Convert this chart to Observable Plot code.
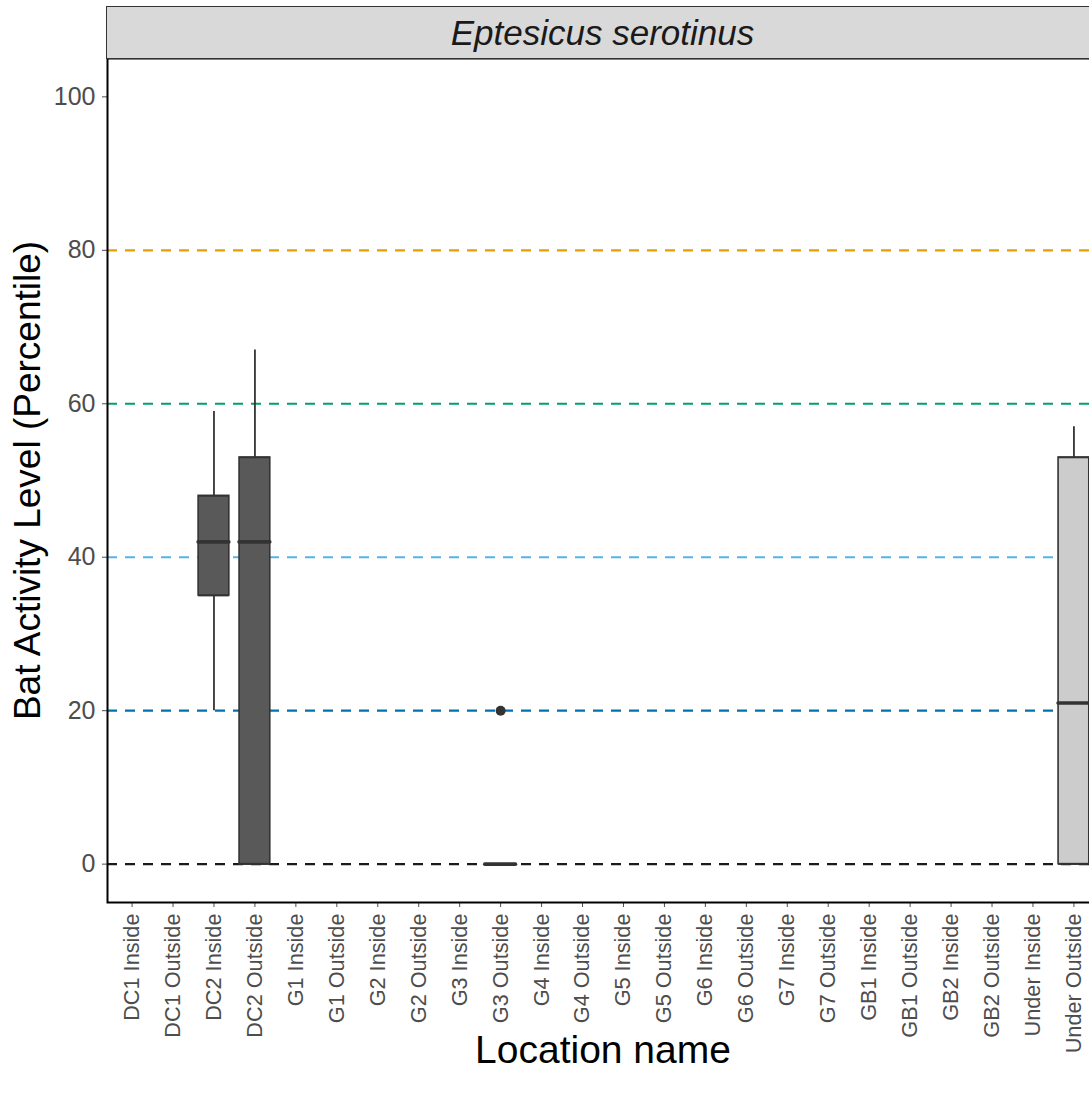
<!DOCTYPE html>
<html>
<head>
<meta charset="utf-8">
<script src="https://cdn.jsdelivr.net/npm/d3@7"></script>
<script src="https://cdn.jsdelivr.net/npm/@observablehq/plot@0.6"></script>
<style>
  html, body { margin: 0; padding: 0; background: white; overflow: hidden; }
  #wrap { position: relative; width: 1100px; height: 1099px; }
  #strip {
    position: absolute; left: 106px; top: 6px; width: 993px; height: 53px;
    box-sizing: border-box; border: 1.5px solid #333; background: #d9d9d9;
    display: flex; align-items: center; justify-content: center;
    font-family: "Liberation Sans", Arial, sans-serif; font-style: italic;
    font-size: 35px; color: #1a1a1a; z-index: 2;
  }
</style>
</head>
<body>
<div id="wrap"><div id="strip">Eptesicus serotinus</div></div>
<script>
// Categories (x axis)
const locations = [
  "DC1 Inside","DC1 Outside","DC2 Inside","DC2 Outside","G1 Inside","G1 Outside",
  "G2 Inside","G2 Outside","G3 Inside","G3 Outside","G4 Inside","G4 Outside",
  "G5 Inside","G5 Outside","G6 Inside","G6 Outside","G7 Inside","G7 Outside",
  "GB1 Inside","GB1 Outside","GB2 Inside","GB2 Outside","Under Inside","Under Outside"
];
// Boxplot statistics
const boxLoc      = ["DC2 Inside","DC2 Outside","G3 Outside","Under Outside"];
const whiskerLow  = [20, 0, 0, 0];
const q1          = [35, 0, 0, 0];
const median      = [42, 42, 0, 21];
const q3          = [48, 53, 0, 53];
const whiskerHigh = [59, 67, 0, 57];
const boxFill     = ["#595959","#595959","#595959","#cccccc"];
// Outliers
const outlierLoc = ["G3 Outside"];
const outlierVal = [20];
// Reference lines
const refValues = [0, 20, 40, 60, 80];
const refColors = ["#1a1a1a","#0072B2","#56B4E9","#009E73","#E69F00"];
// Y ticks
const yTicks = [0, 20, 40, 60, 80, 100];

const boxes = boxLoc.map((loc, i) => ({
  loc, lo: whiskerLow[i], q1: q1[i], med: median[i], q3: q3[i], hi: whiskerHigh[i], fill: boxFill[i]
}));
const outliers = outlierLoc.map((loc, i) => ({loc, v: outlierVal[i]}));
const refs = refValues.map((v, i) => ({v, c: refColors[i]}));

const chart = Plot.plot({
  width: 1100,
  height: 1099,
  marginLeft: 107,
  marginRight: 2,
  marginTop: 58,
  marginBottom: 197,
  style: {fontFamily: "'Liberation Sans', Arial, sans-serif", background: "white"},
  x: {type: "band", domain: locations, paddingInner: 0.25, paddingOuter: 0.225, round: false, label: null},
  y: {domain: [-5, 105], label: null},
  color: {type: "identity"},
  marks: [
    Plot.ruleY(refs, {y: "v", stroke: "c", strokeWidth: 2.2, strokeDasharray: "10,8"}),
    Plot.ruleX(boxes, {x: "loc", y1: "lo", y2: "hi", stroke: "#333", strokeWidth: 1.8}),
    Plot.barY(boxes, {x: "loc", y1: "q1", y2: "q3", fill: "fill", stroke: "#333", strokeWidth: 1.6}),
    Plot.tickY(boxes, {x: "loc", y: "q1", stroke: "#333", strokeWidth: 1.6}),
    Plot.tickY(boxes, {x: "loc", y: "q3", stroke: "#333", strokeWidth: 1.6}),
    Plot.tickY(boxes, {x: "loc", y: "med", stroke: "#333", strokeWidth: 3.6, strokeLinecap: "round"}),
    Plot.dot(outliers, {x: "loc", y: "v", r: 5, fill: "#333", stroke: "none"}),
    Plot.axisY({ticks: yTicks, tickSize: 5, tickPadding: 7, fontSize: 25, color: "#4d4d4d", label: null}),
    Plot.axisX({tickSize: 5, tickPadding: 6, tickRotate: -90, fontSize: 21.7, color: "#4d4d4d", label: null}),
    Plot.text(["Bat Activity Level (Percentile)"], {frameAnchor: "left", dx: -79, rotate: -90, fontSize: 37, fill: "black", textAnchor: "middle"}),
    Plot.text(["Location name"], {frameAnchor: "bottom", dy: 160, fontSize: 39, fill: "black", textAnchor: "middle"}),
    Plot.frame({stroke: "black", strokeWidth: 2})
  ]
});
document.getElementById("wrap").appendChild(chart);
</script>
</body>
</html>
